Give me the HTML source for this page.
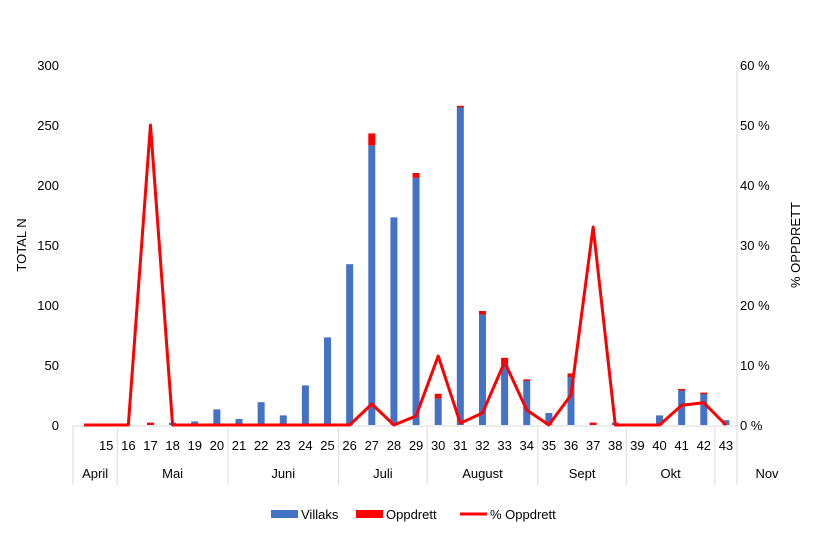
<!DOCTYPE html>
<html><head><meta charset="utf-8"><style>
body{margin:0;background:#fff;}
svg text{font-family:"Liberation Sans",sans-serif;fill:#000;}
</style></head><body>
<svg id="chart" width="825" height="535" xmlns="http://www.w3.org/2000/svg"></svg>
<script>
const weeks=[14,15,16,17,18,19,20,21,22,23,24,25,26,27,28,29,30,31,32,33,34,35,36,37,38,39,40,41,42,43];
const weekLabels=["","15","16","17","18","19","20","21","22","23","24","25","26","27","28","29","30","31","32","33","34","35","36","37","38","39","40","41","42","43"];
const villaks=[0,0,0,0,2,3,13,5,19,8,33,73,134,233,173,206,22,265,92,50,37,10,40,0,2,1,8,29,26,4];
const oppdrett=[0,0,0,2,0,0,0,0,0,0,0,0,0,10,0,4,4,1,3,6,1,0,3,2,0,0,0,1,1,0];
const pctOppdrett=[0,0,0,50,0,0,0,0,0,0,0,0,0,3.5,0,1.5,11.5,0.3,2,10.5,2.5,0,5,33,0,0,0,3.3,3.7,0];
const leftTicks=[0,50,100,150,200,250,300];
const rightTicks=[0,10,20,30,40,50,60];
const months=["April","Mai","Juni","Juli","August","Sept","Okt","Nov"];
const monthStart=[0,2,7,12,16,21,25,29];
const monthEnd=[2,7,12,16,21,25,29,30];

const svg=document.getElementById('chart');
const NS="http://www.w3.org/2000/svg";
const X0=73,X1=737,Y0=425,Y1=65;
const bw=(X1-X0)/weeks.length;
const xc=i=>X0+(i+0.5)*bw;
const xe=i=>X0+i*bw;
const yL=v=>Y0-(v/300)*(Y0-Y1);
const yR=v=>Y0-(v/60)*(Y0-Y1);
function el(tag,attrs,text){const e=document.createElementNS(NS,tag);for(const k in attrs)e.setAttribute(k,attrs[k]);if(text!==undefined)e.textContent=text;svg.appendChild(e);return e;}

leftTicks.forEach(t=>{const e=el('text',{x:59,y:yL(t)+5,'text-anchor':'end','font-size':13},t);

});
rightTicks.forEach(t=>{const e=el('text',{x:740,y:yR(t)+5,'font-size':13},t+' %');

});
let e=el('line',{x1:X1,y1:Y1,x2:X1,y2:Y0,stroke:'#d9d9d9'});


e=el('text',{x:0,y:0,'font-size':13,transform:'translate(26,245) rotate(-90)','text-anchor':'middle'},'TOTAL N');


e=el('text',{x:0,y:0,'font-size':13,transform:'translate(800,245) rotate(-90)','text-anchor':'middle'},'% OPPDRETT');



weeks.forEach((w,i)=>{
  const v=villaks[i],o=oppdrett[i];
  if(v>0){const r=el('rect',{x:xc(i)-3.5,y:yL(v),width:7,height:Y0-yL(v),fill:'#4472c4'});
  
  }
  if(o>0){const r=el('rect',{x:xc(i)-3.5,y:yL(v+o),width:7,height:Math.max(yL(v)-yL(v+o),1.5),fill:'#ff0000'});
  
  }
});
e=el('line',{x1:X0,y1:Y0+1,x2:X1,y2:Y0+1,stroke:'#d9d9d9'});


e=el('polyline',{points:pctOppdrett.map((p,i)=>xc(i)+','+yR(p)).join(' '),fill:'none',stroke:'#ff0000','stroke-width':3,'stroke-linejoin':'round'});



weekLabels.forEach((l,i)=>{const t=el('text',{x:xc(i),y:450,'text-anchor':'middle','font-size':13},l);

});
monthStart.forEach((s,k)=>{
  const ln=el('line',{x1:xe(s),y1:Y0+1,x2:xe(s),y2:485,stroke:'#d9d9d9'});
  
  
  let cx=(xe(s)+xe(monthEnd[k]))/2; if(months[k]==='Nov')cx=767;
  const t=el('text',{x:cx,y:478,'text-anchor':'middle','font-size':13},months[k]);
  
  
});
e=el('line',{x1:X1,y1:Y0+1,x2:X1,y2:485,stroke:'#d9d9d9'});



e=el('rect',{x:271,y:510,width:27,height:8,fill:'#4472c4'});


e=el('text',{x:301,y:519,'font-size':13},'Villaks');


e=el('rect',{x:356,y:510,width:27,height:8,fill:'#ff0000'});


e=el('text',{x:386,y:519,'font-size':13},'Oppdrett');


e=el('line',{x1:460,y1:514,x2:487,y2:514,stroke:'#ff0000','stroke-width':3});


e=el('text',{x:490,y:519,'font-size':13},'% Oppdrett');


</script>
</body></html>
